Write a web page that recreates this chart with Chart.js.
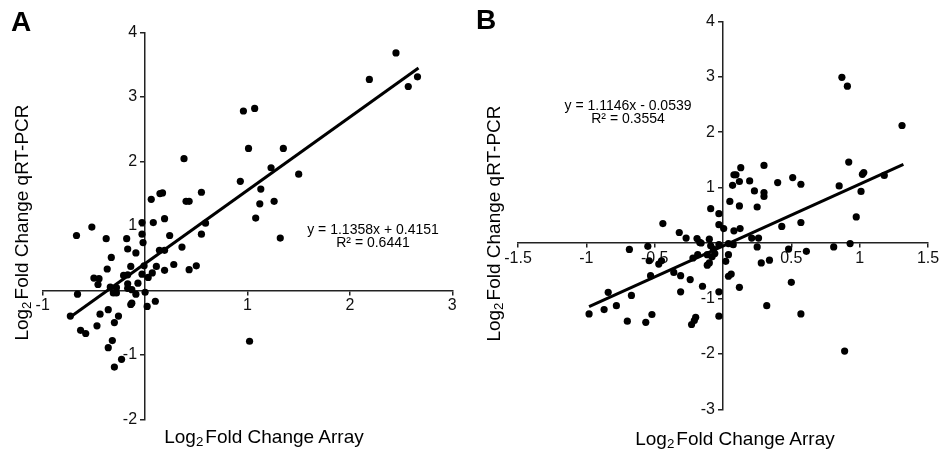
<!DOCTYPE html>
<html>
<head>
<meta charset="utf-8">
<script src="https://cdn.jsdelivr.net/npm/chart.js@4.4.1/dist/chart.umd.min.js"></script>
<style>
  body { margin: 0; background: #fff; font-family: "Liberation Sans", Arial, sans-serif; color: #000; }
  #page { position: relative; width: 941px; height: 450px; overflow: hidden; }
  canvas { position: absolute; top: 0; }
  .txt { position: absolute; white-space: nowrap; }
  .letter { font-weight: bold; font-size: 28px; line-height: 28px; }
  .xtitle { font-size: 19px; line-height: 19px; width: 400px; text-align: center; }
  .ytitle { font-size: 19px; line-height: 19px; width: 300px; text-align: center; transform: rotate(-90deg); }
  .eq { font-size: 14px; line-height: 12.5px; width: 200px; text-align: center; }
  sub { font-size: 70%; vertical-align: -0.25em; line-height: 0; margin-right: 2px; }
</style>
</head>
<body>
<div id="page">
  <canvas id="grafA" width="470" height="450" style="left:0"></canvas>
  <canvas id="grafB" width="471" height="450" style="left:470px"></canvas>

  <div class="txt letter" style="left:11px; top:8px">A</div>
  <div class="txt letter" style="left:476px; top:6px">B</div>

  <div class="txt ytitle" style="left:-129px; top:213px">Log<sub>2</sub>Fold Change qRT-PCR</div>
  <div class="txt ytitle" style="left:343px; top:214px">Log<sub>2</sub>Fold Change qRT-PCR</div>

  <div class="txt xtitle" style="left:64px; top:427px">Log<sub>2</sub>Fold Change Array</div>
  <div class="txt xtitle" style="left:535px; top:429px">Log<sub>2</sub>Fold Change Array</div>

  <div class="txt eq" style="left:273px; top:223px">y = 1.1358x + 0.4151<br>R² = 0.6441</div>
  <div class="txt eq" style="left:528px; top:99px">y = 1.1146x - 0.0539<br>R² = 0.3554</div>
</div>

<script>
// pannello A: array vs qRT-PCR
const puntiA = [
  [2.45, 3.68], [2.19, 3.27], [2.57, 3.16], [2.66, 3.31],
  [0.96, 2.78], [1.07, 2.82], [1.01, 2.20], [1.35, 2.20], [1.23, 1.90], [1.50, 1.80],
  [0.93, 1.69], [1.13, 1.57], [1.12, 1.34], [1.26, 1.38], [1.08, 1.12], [1.32, 0.81], [1.02, -0.79],
  [0.38, 2.04], [0.06, 1.41], [0.145, 1.50], [0.17, 1.51], [0.19, 1.11], [0.08, 1.05], [-0.03, 1.05],
  [0.40, 1.38], [0.43, 1.38], [0.55, 1.52], [0.59, 1.04],
  [-0.67, 0.85], [-0.52, 0.98], [-0.38, 0.80], [-0.18, 0.80], [-0.17, 0.64], [-0.09, 0.58],
  [-0.03, 0.87], [-0.02, 0.74], [0.24, 0.85], [0.55, 0.87], [0.36, 0.67], [0.14, 0.62], [0.19, 0.62],
  [-0.33, 0.51], [-0.37, 0.33], [-0.14, 0.37], [-0.01, 0.38], [0.11, 0.37], [0.28, 0.40],
  [0.43, 0.32], [0.50, 0.38], [0.19, 0.31],
  [-0.50, 0.19], [-0.45, 0.18], [-0.46, 0.09], [-0.21, 0.23], [-0.17, 0.24], [-0.03, 0.25],
  [0.03, 0.20], [0.07, 0.27], [-0.17, 0.10], [-0.07, 0.11],
  [-0.34, 0.05], [-0.28, 0.04], [-0.31, -0.04], [-0.28, -0.04], [-0.17, 0.03], [-0.13, 0.01],
  [-0.66, -0.06], [-0.09, -0.06], [0.0, -0.03],
  [-0.14, -0.22], [-0.13, -0.20], [0.02, -0.25], [0.10, -0.17],
  [-0.73, -0.40], [-0.44, -0.37], [-0.36, -0.30], [-0.26, -0.40], [-0.30, -0.50], [-0.47, -0.55],
  [-0.63, -0.62], [-0.58, -0.67], [-0.32, -0.78], [-0.36, -0.89], [-0.23, -1.07], [-0.30, -1.19]
];
const pendenzaA = 1.1358;
const intercettaA = 0.4151;
const rangeRettaA = [-0.73, 2.67];
const tickXA = [-1, 1, 2, 3];
const tickYA = [-2, -1, 1, 2, 3, 4];
const limitiXA = [-1, 3];
const limitiYA = [-2, 4];

// pannello B
const puntiB = [
  [0.87, 2.99], [0.91, 2.83], [1.31, 2.12], [0.92, 1.46], [0.85, 1.03], [1.03, 1.27], [1.02, 1.24],
  [1.18, 1.22], [1.01, 0.93], [0.975, 0.47],
  [0.51, 1.18], [0.57, 1.06], [0.40, 1.09], [0.30, 1.40], [0.30, 0.91], [0.30, 0.84], [0.23, 0.94],
  [0.25, 0.65], [0.195, 1.12], [0.13, 1.36], [0.08, 1.23], [0.095, 1.23], [0.07, 1.04], [0.12, 1.11],
  [0.05, 0.75], [0.12, 0.67], [-0.09, 0.62], [-0.03, 0.53], [0.57, 0.37], [-0.44, 0.35], [0.43, 0.30],
  [-0.03, 0.33], [0.005, 0.26], [0.08, 0.22], [0.125, 0.26], [-0.32, 0.19], [-0.27, 0.09],
  [-0.19, 0.08], [-0.17, 0.01], [-0.10, 0.07], [0.21, 0.09], [0.26, 0.09],
  [-0.16, 0.0], [-0.09, -0.05], [-0.07, -0.11], [-0.03, -0.03], [0.075, -0.03], [0.25, -0.07], [0.04, -0.01],
  [-0.22, -0.27], [-0.185, -0.21], [-0.115, -0.21], [-0.08, -0.25], [-0.06, -0.19], [-0.115, -0.40],
  [-0.10, -0.36], [0.04, -0.21], [0.02, -0.33], [0.28, -0.36], [0.34, -0.31], [0.48, -0.11], [0.61, -0.15],
  [0.04, -0.60], [0.06, -0.56], [-0.36, -0.53], [-0.31, -0.59], [-0.24, -0.66], [-0.15, -0.78],
  [-0.31, -0.88], [-0.03, -0.88], [0.12, -0.80], [0.50, -0.71], [0.32, -1.13], [0.57, -1.28],
  [-0.03, -1.32], [-0.20, -1.34], [-0.21, -1.40], [-0.23, -1.47],
  [0.93, -0.01], [0.81, -0.07], [0.89, -1.95],
  [-0.685, -0.115], [-0.55, -0.06], [-0.54, -0.32], [-0.47, -0.38], [-0.45, -0.32], [-0.53, -0.59],
  [-0.84, -0.89], [-0.67, -0.945], [-0.98, -1.28], [-0.87, -1.20], [-0.78, -1.13], [-0.70, -1.41],
  [-0.565, -1.43], [-0.52, -1.29]
];
const pendenzaB = 1.1146;
const intercettaB = -0.0539;
const rangeRettaB = [-0.98, 1.32];
const tickXB = [-1.5, -1, -0.5, 0.5, 1, 1.5];
const tickYB = [-3, -2, -1, 1, 2, 3, 4];
const limitiXB = [-1.5, 1.5];
const limitiYB = [-3, 4];

const fontTick = { family: '"Liberation Sans", Arial, sans-serif', size: 16 };

function asse(limiti, ticks, posizione, orizzontale) {
    return {
        type: 'linear',
        min: limiti[0],
        max: limiti[1],
        position: posizione,
        afterBuildTicks: s => { s.ticks = ticks.map(v => ({ value: v })); },
        afterFit: s => {
            // niente spazio riservato: l'asse passa per lo zero
            if (orizzontale) { s.height = 0; } else { s.width = 0; }
            s.paddingLeft = 0; s.paddingRight = 0; s.paddingTop = 0; s.paddingBottom = 0;
        },
        grid: { drawOnChartArea: false, drawTicks: true, tickLength: 4, color: '#222', lineWidth: 1.5 },
        border: { display: true, color: '#222', width: 1.5 },
        ticks: {
            color: '#111',
            font: fontTick,
            padding: 2,
            maxRotation: 0,
            autoSkip: false,
            // sull'asse y le etichette finirebbero attaccate all'asse: uno spazio le stacca
            callback: v => orizzontale ? String(v) : String(v) + '\u2002'
        }
    };
}

function disegnaGrafico(id, punti, pendenza, intercetta, rangeRetta, limitiX, limitiY, tickX, tickY, padding) {
    const retta = rangeRetta.map(x => ({ x: x, y: pendenza * x + intercetta }));
    const config = {
        type: 'scatter',
        data: {
            datasets: [
                {
                    label: 'retta',
                    type: 'line',
                    data: retta,
                    borderColor: '#000',
                    borderWidth: 3,
                    pointRadius: 0,
                    fill: false,
                    order: 2
                },
                {
                    label: 'dati',
                    data: punti.map(p => ({ x: p[0], y: p[1] })),
                    backgroundColor: '#000',
                    borderWidth: 0,
                    pointRadius: 3.6,
                    order: 1
                }
            ]
        },
        options: {
            responsive: false,
            animation: false,
            layout: { padding: padding },
            plugins: { legend: { display: false }, tooltip: { enabled: false } },
            scales: {
                x: asse(limitiX, tickX, { y: 0 }, true),
                y: asse(limitiY, tickY, { x: 0 }, false)
            }
        }
    };
    new Chart(document.getElementById(id).getContext('2d'), config);
}

disegnaGrafico('grafA', puntiA, pendenzaA, intercettaA, rangeRettaA, limitiXA, limitiYA, tickXA, tickYA,
    { left: 42.7, right: 17.7, top: 32.3, bottom: 30.7 });
disegnaGrafico('grafB', puntiB, pendenzaB, intercettaB, rangeRettaB, limitiXB, limitiYB, tickXB, tickYB,
    { left: 48, right: 13, top: 21.3, bottom: 40.7 });
</script>
</body>
</html>
